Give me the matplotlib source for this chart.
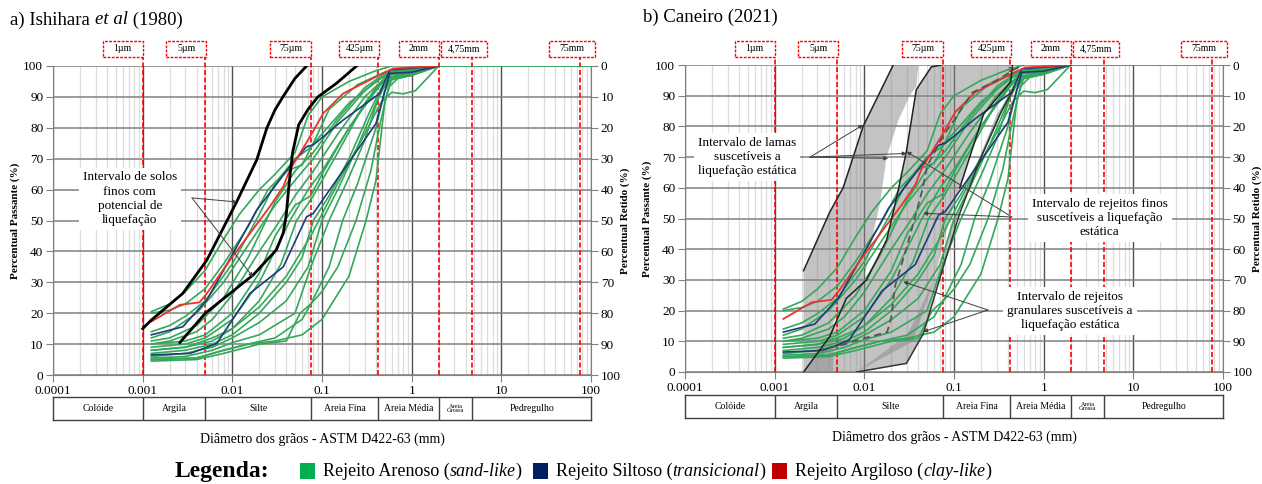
import matplotlib.pyplot as plt
from matplotlib.patches import Rectangle, Polygon
from matplotlib.transforms import IdentityTransform
from matplotlib.ticker import LogLocator, NullFormatter

plt.rcParams['font.family'] = ['Liberation Serif', 'DejaVu Serif']

# grain size (mm), percent passing
green_a = [(0.00125, 20.5), (0.002, 23), (0.003, 27), (0.005, 34), (0.008, 44), (0.012, 52), (0.02, 60),
           (0.03, 65), (0.05, 72), (0.07, 84), (0.1, 90), (0.2, 95), (0.4, 98.5), (0.6, 100)]
green_b = [(0.00125, 20), (0.002, 21), (0.003, 23), (0.005, 28), (0.008, 36), (0.015, 48), (0.025, 60),
           (0.04, 66), (0.06, 68), (0.08, 75), (0.12, 86), (0.25, 94), (0.5, 98), (1, 99), (2, 100)]
green_c = [(0.00125, 14), (0.002, 16), (0.003, 19), (0.005, 24), (0.01, 36), (0.02, 52), (0.03, 62),
           (0.05, 70), (0.07, 73), (0.1, 78), (0.2, 88), (0.4, 95), (0.6, 98), (2, 100)]
green_d = [(0.00125, 12), (0.002, 14), (0.004, 20), (0.008, 30), (0.015, 42), (0.03, 55), (0.05, 63),
           (0.08, 70), (0.15, 82), (0.3, 92), (0.5, 97), (1, 98.5), (2, 100)]
green_e = [(0.00125, 10), (0.002, 11), (0.004, 14), (0.006, 18), (0.01, 26), (0.02, 40), (0.034, 50),
           (0.05, 58), (0.08, 66), (0.15, 78), (0.3, 90), (0.5, 96), (1, 98), (2, 100)]
green_f = [(0.00125, 9), (0.003, 10), (0.005, 12), (0.01, 18), (0.02, 30), (0.044, 50), (0.07, 60),
           (0.1, 66), (0.2, 80), (0.4, 92), (0.55, 97), (1, 98), (2, 100)]
green_g = [(0.00125, 8), (0.003, 9), (0.006, 11), (0.01, 15), (0.02, 24), (0.035, 36), (0.052, 50),
           (0.08, 58), (0.15, 72), (0.3, 88), (0.5, 96), (1, 97.5), (2, 100)]
green_h = [(0.00125, 7), (0.003, 8), (0.006, 10), (0.01, 13), (0.02, 20), (0.04, 30), (0.06, 38),
           (0.08, 50), (0.12, 58), (0.2, 70), (0.35, 86), (0.5, 95), (1, 97), (2, 100)]
green_i = [(0.00125, 6), (0.003, 7), (0.006, 9), (0.01, 12), (0.02, 17), (0.04, 24), (0.07, 35),
           (0.1, 50), (0.15, 60), (0.25, 74), (0.4, 88), (0.55, 96), (1, 97.5), (2, 100)]
green_j = [(0.00125, 5.5), (0.003, 6), (0.006, 8), (0.01, 10.5), (0.02, 13), (0.05, 20), (0.075, 35),
           (0.12, 50), (0.2, 64), (0.3, 76), (0.45, 92), (0.6, 96), (1, 97), (2, 100)]
green_k = [(0.00125, 5), (0.004, 5.5), (0.008, 8), (0.015, 10), (0.03, 12), (0.06, 18), (0.075, 23),
           (0.12, 35), (0.17, 50), (0.25, 62), (0.4, 80), (0.5, 92), (0.6, 96), (1, 97.5), (2, 100)]
green_l = [(0.00125, 4.5), (0.004, 5), (0.008, 7), (0.02, 10), (0.04, 11), (0.057, 20), (0.075, 23),
           (0.1, 27), (0.15, 35), (0.24, 50), (0.35, 66), (0.45, 82), (0.55, 93), (0.7, 96), (1, 97), (2, 100)]
green_m = [(0.00125, 5), (0.004, 5.5), (0.008, 8), (0.015, 10), (0.03, 11), (0.06, 13), (0.1, 18),
           (0.2, 32), (0.31, 50), (0.4, 63), (0.5, 88), (0.6, 96), (2, 100)]
green_n = [(0.00125, 8), (0.003, 9), (0.006, 12), (0.01, 15), (0.02, 22), (0.04, 32), (0.075, 45),
           (0.15, 62), (0.3, 78), (0.45, 88), (0.6, 91.5), (0.8, 91), (1.1, 92), (2, 100)]
green_o = [(0.00125, 10), (0.003, 11), (0.005, 13), (0.01, 20), (0.02, 33), (0.03, 45), (0.05, 55),
           (0.075, 58), (0.1, 65), (0.2, 80), (0.4, 93), (0.6, 98), (2, 100)]
green_p = [(0.00125, 11), (0.002, 12), (0.004, 16), (0.008, 25), (0.015, 38), (0.03, 56), (0.05, 66),
           (0.08, 72), (0.15, 83), (0.3, 93), (0.5, 97.5), (2, 100)]
green_top = [(2, 100), (100, 100)]
green_curves = [green_a, green_b, green_c, green_d, green_e, green_f, green_g, green_h, green_i,
                green_j, green_k, green_l, green_m, green_n, green_o, green_p, green_top]

blue_a = [(0.00125, 13), (0.0028, 15.6), (0.0052, 24.3), (0.0102, 39.4), (0.0187, 53.4), (0.0437, 67.4),
          (0.0673, 73.9), (0.08, 74.5), (0.103, 77.1), (0.172, 82.5), (0.44, 91.1), (0.57, 98.7), (2, 100)]
blue_b = [(0.00125, 6.5), (0.0034, 7), (0.0067, 10.2), (0.0157, 26.4), (0.037, 35), (0.0673, 51.2),
          (0.08, 52.3), (0.145, 63.1), (0.4, 81.4), (0.57, 97.6), (1, 98), (2, 100)]
blue_curves = [blue_a, blue_b]

red_a = [(0.00125, 17.3), (0.0026, 22.7), (0.0043, 23.5), (0.0052, 26.4), (0.0094, 37.2), (0.0157, 45.8),
         (0.0262, 54.5), (0.037, 61), (0.0437, 66.3), (0.0734, 77.1), (0.1034, 84.7), (0.172, 91.1),
         (0.44, 97.1), (0.62, 99.2), (1.9, 100)]

# Ishihara et al (1980) bounds
ishihara_upper = [(0.001, 15), (0.00125, 17.8), (0.0028, 26.4), (0.0052, 37.2), (0.0112, 56.1),
                  (0.0187, 69.6), (0.0243, 80), (0.0299, 85.8), (0.0366, 90), (0.05, 96), (0.0673, 100)]
ishihara_lower = [(0.0026, 10.5), (0.005, 20), (0.0171, 32.4), (0.031, 40.5), (0.037, 46), (0.040, 52),
                  (0.043, 62), (0.047, 72), (0.055, 81), (0.07, 86), (0.09, 90), (0.145, 94.4), (0.243, 100)]

# Caneiro (2021) bounds
lamas_left = [(0.0021, 0), (0.0021, 33), (0.0041, 52), (0.0058, 60), (0.0097, 80), (0.021, 100)]
lamas_inner = [(0.04, 100), (0.038, 93), (0.032, 90), (0.024, 82), (0.0177, 70), (0.015, 55), (0.0125, 45),
               (0.011, 36), (0.0097, 29), (0.0063, 24), (0.0045, 16), (0.0045, 0)]
finos_left = [(0.0021, 0), (0.0041, 11.5), (0.0063, 24), (0.0106, 30), (0.0177, 43),
              (0.023, 57), (0.0295, 72), (0.038, 92), (0.056, 99.4), (0.073, 100)]
finos_right = [(0.45, 100), (0.43, 94.6), (0.214, 84), (0.116, 60), (0.09, 50), (0.06, 30), (0.035, 10),
               (0.0082, 0)]
granular_right = [(0.0082, 0), (0.0295, 2.8), (0.0456, 12.6), (0.0761, 34.3), (0.116, 51.7), (0.194, 69),
                  (0.33, 84.3), (0.46, 92)]
granular_left = [(0.3, 84), (0.15, 62), (0.1, 50), (0.06, 30), (0.03, 12)]
dashed_curve = [(0.003, 7), (0.006, 9), (0.01, 11), (0.018, 13), (0.02, 18), (0.022, 28), (0.03, 41),
                (0.038, 52), (0.045, 60), (0.05, 67), (0.076, 77), (0.1, 82), (0.16, 91), (0.3, 95),
                (0.46, 98.4), (0.6, 100)]

decades = [0.0001, 0.001, 0.01, 0.1, 1, 10, 100]
decade_labels = ['0.0001', '0.001', '0.01', '0.1', '1', '10', '100']
sieve_sizes = [0.001, 0.005, 0.075, 0.425, 2, 4.75, 75]
sieve_labels = ['1µm', '5µm', '75µm', '425µm', '2mm', '4,75mm', '75mm']
class_edges = [0.0001, 0.001, 0.005, 0.075, 0.425, 2, 4.75, 100]
class_names = ['Colóide', 'Argila', 'Silte', 'Areia Fina', 'Areia Média', 'Areia\nGrossa', 'Pedregulho']

W, H = 1262, 484
fig = plt.figure(figsize=(W / 100, H / 100), dpi=100)
r = fig.canvas.get_renderer()


def box(l, t, r_, b):
    return [l / W, 1 - b / H, (r_ - l) / W, (b - t) / H]


GREEN, BLUE, RED = '#34a85a', '#1f3a7a', '#e8352a'
GRID = '#808080'


def xy(c):
    return [p[0] for p in c], [p[1] for p in c]


def run(x, y, pieces, size=13):
    for txt, style in pieces:
        t = fig.text(x / W, 1 - y / H, txt, fontsize=size, style=style, va='center')
        x += t.get_window_extent(r).width
    return x


def setup(ax, tb, top_px, bottom_px):
    ax.set_xscale('log')
    ax.set_xlim(1e-4, 100)
    ax.set_ylim(0, 100)
    ax.set_xticks(decades)
    ax.set_xticklabels(decade_labels)
    ax.xaxis.set_minor_locator(LogLocator(subs=range(2, 10), numticks=20))
    ax.xaxis.set_minor_formatter(NullFormatter())
    ax.set_yticks(range(0, 101, 10))
    ax.grid(which='minor', axis='x', color='#dcdcdc', lw=0.9)
    ax.grid(which='major', axis='x', color='#505050', lw=1.0)
    ax.grid(which='major', axis='y', color=GRID, lw=1.1)
    ax.set_axisbelow(True)
    ax.tick_params(which='minor', length=0)
    ax.tick_params(which='major', direction='out', length=5, color=GRID, labelsize=9.5, pad=2)
    for s in ax.spines.values():
        s.set_color(GRID)
    ax.spines['top'].set_visible(False)
    ax.set_ylabel('Percentual Passante (%)', fontsize=8, fontweight='bold', labelpad=2)
    tw = ax.twinx()
    tw.set_ylim(100, 0)
    tw.set_yticks(range(0, 101, 10))
    tw.tick_params(direction='out', length=5, color=GRID, labelsize=9.5, pad=2)
    for s in tw.spines.values():
        s.set_visible(False)
    tw.set_ylabel('Percentual Retido (%)', fontsize=8, fontweight='bold', labelpad=0)

    # red dashed sieve lines with labels
    ext = (bottom_px - 57) / (bottom_px - top_px)
    offsets = [-20, -19, -20, -19, -20, -8, -8]
    widths = [40, 40, 41, 40, 40, 46, 46]
    for d, lab, off, w in zip(sieve_sizes, sieve_labels, offsets, widths):
        ax.plot([d, d], [0, ext], transform=ax.get_xaxis_transform(), color='#ff0000',
                lw=1.2, ls=(0, (3, 1.5)), clip_on=False, zorder=3)
        xc = ax.transData.transform((d, 0))[0] + off
        fig.patches.append(Rectangle((xc - w / 2, H - 57), w, 16, transform=IdentityTransform(),
                                     fill=True, fc='white', ec='#ff0000', ls=(0, (2, 1)), lw=1.0))
        fig.text(xc / W, 1 - 48.5 / H, lab, fontsize=7, ha='center', va='center')

    # classification table
    tb.set_xscale('log')
    tb.set_xlim(1e-4, 100)
    tb.set_ylim(0, 1)
    tb.set_xticks([])
    tb.set_yticks([])
    tb.minorticks_off()
    for s in tb.spines.values():
        s.set_color('#404040')
        s.set_linewidth(1.0)
    for e in class_edges[1:-1]:
        tb.axvline(e, color='#404040', lw=1.0)
    for a, b, name in zip(class_edges[:-1], class_edges[1:], class_names):
        fs = 4.5 if '\n' in name else 7
        tb.text((a * b) ** 0.5, 0.5, name, ha='center', va='center', fontsize=fs, linespacing=1.0)
    tb.set_xlabel('Diâmetro dos grãos - ASTM D422-63 (mm)', fontsize=10, labelpad=9)


def draw_samples(ax):
    for c in green_curves:
        ax.plot(*xy(c), color=GREEN, lw=1.2, zorder=4)
    for c in blue_curves:
        ax.plot(*xy(c), color=BLUE, lw=1.2, zorder=4)
    ax.plot(*xy(red_a), color=RED, lw=1.3, zorder=4)


arrow = dict(arrowstyle='-|>', lw=0.7, color='#404040', mutation_scale=6, shrinkA=0, shrinkB=0)
label_box = dict(boxstyle='square,pad=0.3', fc='white', ec='none')

# ---- a) Ishihara ----
ax1 = fig.add_axes(box(53, 66, 591, 375))
tb1 = fig.add_axes(box(53, 397, 591, 420))
setup(ax1, tb1, 66, 375)
draw_samples(ax1)
ax1.plot(*xy(ishihara_upper), color='black', lw=2.0, zorder=5)
ax1.plot(*xy(ishihara_lower), color='black', lw=2.0, zorder=5)
ax1.text(0.00072, 57, 'Intervalo de solos\nfinos com\npotencial de\nliquefação', ha='center', va='center',
         fontsize=9.5, linespacing=1.25, bbox=label_box, zorder=6)
for tgt in [(0.01125, 56), (0.0170, 31.7)]:
    ax1.annotate('', xy=tgt, xytext=(0.00355, 57.3), arrowprops=arrow, zorder=7)
run(10, 20, [('a) Ishihara ', 'normal'), ('et al', 'italic'), (' (1980)', 'normal')], size=13.5)

# ---- b) Caneiro ----
ax2 = fig.add_axes(box(685, 65, 1223, 372))
tb2 = fig.add_axes(box(685, 395, 1223, 418))
setup(ax2, tb2, 65, 372)
grey = dict(fc='#888888', alpha=0.5, ec='none', zorder=2)
ax2.add_patch(Polygon(lamas_left + lamas_inner, **grey))
ax2.add_patch(Polygon(finos_left + finos_right, **grey))
ax2.add_patch(Polygon(granular_right + granular_left, **grey))
draw_samples(ax2)
ax2.plot(*xy(dashed_curve), color='#555555', lw=1.3, ls=(0, (4, 2.5)), zorder=5)
ax2.plot(*xy(lamas_left[1:]), color='#222222', lw=1.1, zorder=5)
ax2.plot(*xy(finos_left), color='#222222', lw=1.1, zorder=5)
ax2.plot(*xy(finos_right[:4]), color='#222222', lw=1.1, zorder=5)
ax2.plot(*xy(granular_right), color='#333333', lw=1.1, zorder=5)
ax2.text(0.00049, 70, 'Intervalo de lamas\nsuscetíveis a\nliquefação estática', ha='center', va='center',
         fontsize=9.5, linespacing=1.25, bbox=label_box, zorder=6)
for tgt in [(0.0097, 80.5), (0.01846, 69.6), (0.0296, 71.2)]:
    ax2.annotate('', xy=tgt, xytext=(0.00248, 70), arrowprops=arrow, zorder=7)
ax2.text(4.23, 50.2, 'Intervalo de rejeitos finos\nsuscetíveis a liquefação\nestática', ha='center',
         va='center', fontsize=9.5, linespacing=1.25, bbox=label_box, zorder=6)
for tgt in [(0.0296, 71.8), (0.0454, 51.7)]:
    ax2.annotate('', xy=tgt, xytext=(0.442, 50.5), arrowprops=arrow, zorder=7)
ax2.text(1.96, 19.9, 'Intervalo de rejeitos\ngranulares suscetíveis a\nliquefação estática', ha='center',
         va='center', fontsize=9.5, linespacing=1.25, bbox=label_box, zorder=6)
for tgt in [(0.0272, 29.4), (0.0454, 13.1)]:
    ax2.annotate('', xy=tgt, xytext=(0.239, 20.2), arrowprops=arrow, zorder=7)
run(643, 17, [('b) Caneiro (2021)', 'normal')], size=13.5)

# ---- legend ----
fig.text(175 / W, 1 - 471 / H, 'Legenda:', fontsize=17, fontweight='bold', va='center')
legend_items = [('#00b050', 'sand-like', 'Rejeito Arenoso (', 300),
                ('#002060', 'transicional', 'Rejeito Siltoso (', 533),
                ('#c00000', 'clay-like', 'Rejeito Argiloso (', 772)]
for col, ital, lead, x0 in legend_items:
    fig.patches.append(Rectangle((x0, H - 479), 15, 16, transform=IdentityTransform(), fc=col, ec='none'))
    run(x0 + 23, 471, [(lead, 'normal'), (ital, 'italic'), (')', 'normal')])

fig.savefig('out.png', dpi=100)
